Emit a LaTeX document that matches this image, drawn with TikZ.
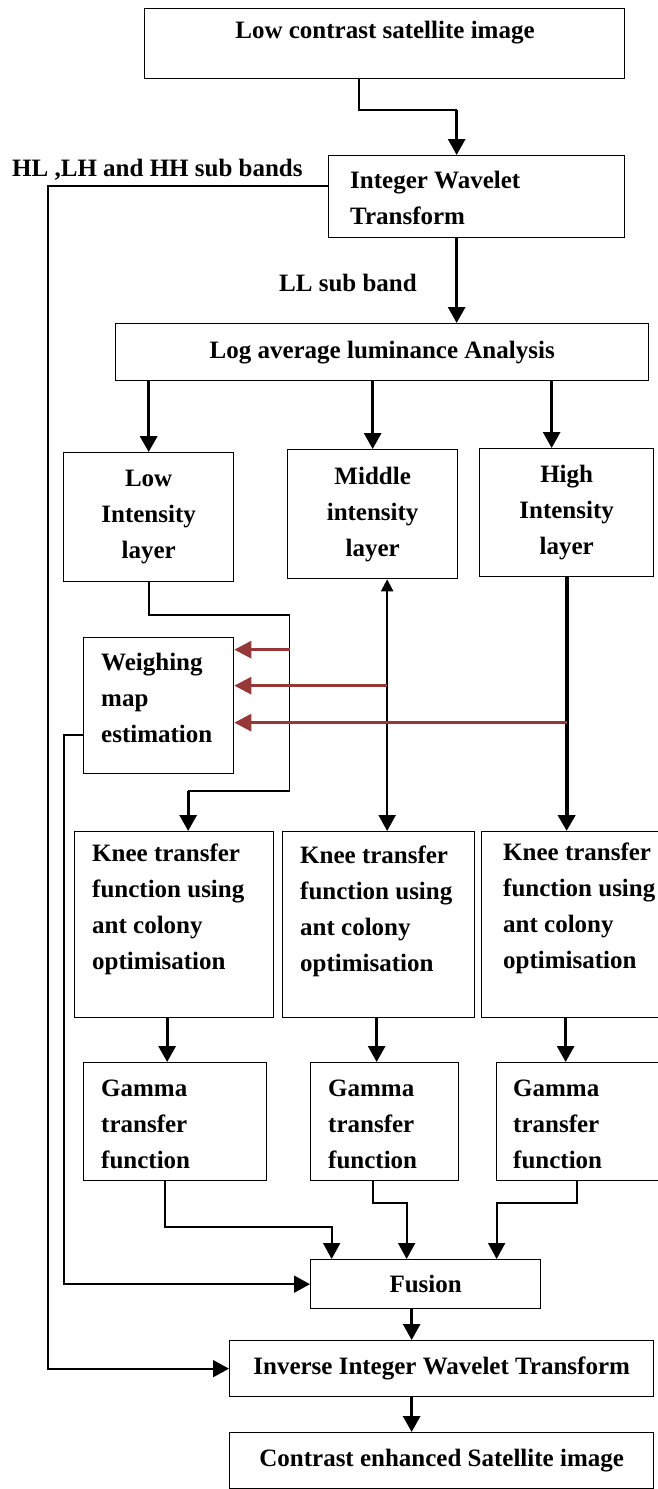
\documentclass[tikz,border=0pt]{standalone}
\usepackage{fontspec}
\setmainfont{Liberation Serif}
\usepackage{xcolor}
\usetikzlibrary{arrows.meta}
\definecolor{wmred}{RGB}{150,56,56}

\begin{document}
\begin{tikzpicture}[x=1pt, y=-1pt,
    font=\fontsize{25}{36}\selectfont\bfseries,
    box/.style={draw, line width=1.3pt, anchor=north west, inner sep=0pt, align=center},
    txt/.style={inner sep=0pt, align=left, anchor=west},
    arr/.style={-{Triangle[length=16pt, width=17pt]}},
    flow/.style={line width=3pt, arr},
    link/.style={line width=1.8pt},
    wmap/.style={wmred, line width=3pt, -{Triangle[length=17pt, width=17pt]}}]
\useasboundingbox (0,0) rectangle (658,1489);

% Boxes
\node[box, minimum width=480pt, minimum height=70pt] (top) at (144,8) {};
\node[box, minimum width=296pt, minimum height=82pt] (iwt) at (328,155) {};
\node[box, minimum width=533pt, minimum height=57pt] (log) at (115,323) {Log average luminance Analysis};
\node[box, minimum width=170pt, minimum height=129pt] (low) at (63,452) {Low\\Intensity\\layer};
\node[box, minimum width=170pt, minimum height=129pt] (mid) at (287,449) {Middle\\intensity\\layer};
\node[box, minimum width=174pt, minimum height=128pt] (high) at (479,448) {High\\Intensity\\layer};
\node[box, minimum width=150pt, minimum height=136pt] (weigh) at (83,637) {};
\node[box, minimum width=199pt, minimum height=186pt] (knee1) at (74,831) {};
\node[box, minimum width=192pt, minimum height=186pt] (knee2) at (282,831) {};
\node[box, minimum width=190pt, minimum height=186pt] (knee3) at (481,831) {};
\node[box, minimum width=183pt, minimum height=118pt] (gamma1) at (83,1062) {};
\node[box, minimum width=148pt, minimum height=118pt] (gamma2) at (310,1062) {};
\node[box, minimum width=170pt, minimum height=118pt] (gamma3) at (496,1062) {};
\node[box, minimum width=230pt, minimum height=49pt] (fusion) at (310,1259) {Fusion};
\node[box, minimum width=424pt, minimum height=56pt] (iiwt) at (229,1340) {Inverse Integer Wavelet Transform};
\node[box, minimum width=424pt, minimum height=56pt] (out) at (229,1432) {Contrast enhanced Satellite image};

% Texts
\node (toptxt) at (385,33) {Low contrast satellite image};
\node[txt] (iwttxt) at (350,198) {Integer Wavelet\\Transform};
\node[txt] (hltxt) at (12,170) {HL ,LH and HH sub bands};
\node[txt] (lltxt) at (279,283) {LL sub band};
\node[txt] (weightxt) at (101,698) {Weighing\\map\\estimation};
\node[txt] (knee1txt) at (92,909) {Knee transfer\\function using\\ant colony\\optimisation};
\node[txt] (knee2txt) at (300,911) {Knee transfer\\function using\\ant colony\\optimisation};
\node[txt] (knee3txt) at (503,908) {Knee transfer\\function using\\ant colony\\optimisation};
\node[txt] (gamma1txt) at (101,1124) {Gamma\\transfer\\function};
\node[txt] (gamma2txt) at (328,1124) {Gamma\\transfer\\function};
\node[txt] (gamma3txt) at (513,1124) {Gamma\\transfer\\function};

% Helper points
\coordinate (iwtin) at ([xshift=-20pt, yshift=45pt]iwt.north);
\coordinate (login) at ([xshift=-20pt]iwt.south);
\coordinate (hightop) at ([xshift=-15pt]high.north);
\coordinate (lowbus) at (289.5,615);
\coordinate (kneein1) at ([xshift=14pt]knee1.north);
\coordinate (midbus) at ([xshift=14.5pt]mid.south);
\coordinate (w1) at ([yshift=56pt]weigh.east);
\coordinate (w2) at ([yshift=20pt]weigh.east);
\coordinate (w3) at ([yshift=-17pt]weigh.east);
\coordinate (g1) at ([xshift=-8pt]gamma1.north);
\coordinate (g2) at ([xshift=-8pt]gamma2.north);
\coordinate (g3) at ([xshift=-16pt]gamma3.north);
\coordinate (f1) at ([xshift=-94pt]fusion.north);
\coordinate (f2) at ([xshift=-19pt]fusion.north);
\coordinate (f3) at ([xshift=71pt]fusion.north);
\coordinate (down1) at ([xshift=-30pt]iiwt.north);
\coordinate (down2) at ([xshift=-30pt]out.north);

% Top part
\draw[link] ([xshift=-26pt]top.south) |- (iwtin);
\draw[flow] (iwtin) -- ([xshift=-20pt]iwt.north);
\draw[flow] (login) -- (login |- log.north);
\draw[link, arr] ([yshift=11pt]iwt.west) -- ++(-280,0) |- (iiwt.west);

% Layers
\draw[flow, line width=3.5pt] (low.north |- log.south) -- (low.north);
\draw[flow] (mid.north |- log.south) -- (mid.north);
\draw[flow] (hightop |- log.south) -- (hightop);

% Down to the knee boxes
\draw[link] (low.south) |- (lowbus) |- ([yshift=40pt]kneein1);
\draw[flow] ([yshift=40pt]kneein1) -- (kneein1);
\draw[line width=2.2pt, {Triangle[length=12pt, width=12pt]}-{Triangle[length=16pt, width=17pt]}] (midbus) -- (midbus |- knee2.north);
\draw[flow, line width=4pt] (high.south) -- (high.south |- knee3.north);

% Weighing map inputs
\draw[wmap] (w1 -| lowbus) -- (w1);
\draw[wmap] (w2 -| midbus) -- (w2);
\draw[wmap] (w3 -| high.south) -- (w3);

% Knee to gamma
\foreach \i in {1,2,3}
  \draw[flow] (g\i |- knee\i.south) -- (g\i);

% Fusion inputs
\draw[link, arr] ([xshift=-10pt]gamma1.south) |- ([yshift=32pt]f1) -- (f1);
\draw[link, arr] ([xshift=-12pt]gamma2.south) |- ([yshift=56pt]f2) -- (f2);
\draw[link, arr] ([xshift=-5pt]gamma3.south) |- ([yshift=56pt]f3) -- (f3);
\draw[link, arr] ([yshift=-29pt]weigh.west) -- ++(-19,0) |- (fusion.west);

% Output
\draw[flow] (down1 |- fusion.south) -- (down1);
\draw[flow] (down2 |- iiwt.south) -- (down2);
\end{tikzpicture}
\end{document}
